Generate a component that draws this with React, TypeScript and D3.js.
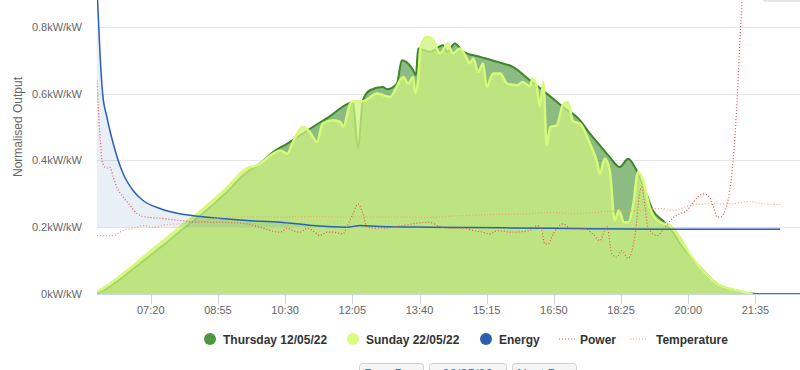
import React from "react";
import * as d3 from "d3";

// ---------- data (time "HH:MM", normalised output kW/kW) ----------
const thursday: [string, number][] = [
  ["06:04", 0.0], ["06:22", 0.022], ["06:36", 0.043], ["06:58", 0.08], ["07:19", 0.115],
  ["07:40", 0.15], ["08:01", 0.187], ["08:30", 0.235], ["09:05", 0.3], ["09:36", 0.365],
  ["09:50", 0.383], ["10:13", 0.425], ["10:33", 0.45], ["10:51", 0.475], ["11:09", 0.5],
  ["11:33", 0.532], ["11:57", 0.568], ["12:06", 0.575], ["12:13", 0.435], ["12:20", 0.58],
  ["12:30", 0.61], ["12:48", 0.62], ["12:54", 0.613], ["13:08", 0.63], ["13:15", 0.7],
  ["13:21", 0.695], ["13:31", 0.67], ["13:35", 0.655], ["13:38", 0.735], ["13:55", 0.725],
  ["14:13", 0.745], ["14:19", 0.725], ["14:30", 0.75], ["14:42", 0.725], ["15:06", 0.71],
  ["15:30", 0.695], ["15:52", 0.68], ["16:16", 0.64], ["16:40", 0.6], ["17:03", 0.56],
  ["17:27", 0.52], ["17:41", 0.48], ["17:55", 0.445], ["18:09", 0.41], ["18:23", 0.38],
  ["18:35", 0.405], ["18:47", 0.37], ["18:59", 0.31], ["19:10", 0.25], ["19:24", 0.22],
  ["19:38", 0.185], ["19:52", 0.14], ["20:17", 0.08], ["20:41", 0.03], ["21:09", 0.01],
  ["21:37", 0.0], ["22:38", 0.0],
];

const sunday: [string, number][] = [
  ["06:04", 0.007], ["06:22", 0.03], ["06:36", 0.053], ["06:58", 0.09], ["07:19", 0.127],
  ["07:40", 0.163], ["08:01", 0.2], ["08:30", 0.248], ["09:05", 0.313], ["09:36", 0.377],
  ["09:50", 0.385], ["10:13", 0.42], ["10:23", 0.43], ["10:33", 0.42], ["10:41", 0.455],
  ["10:55", 0.5], ["11:05", 0.485], ["11:15", 0.455], ["11:23", 0.51], ["11:38", 0.52],
  ["11:48", 0.515], ["11:52", 0.5], ["12:02", 0.57], ["12:06", 0.577], ["12:20", 0.577],
  ["12:40", 0.6], ["12:58", 0.59], ["13:17", 0.65], ["13:24", 0.63], ["13:31", 0.65],
  ["13:34", 0.6], ["13:38", 0.64], ["13:42", 0.745], ["13:51", 0.77], ["13:59", 0.76],
  ["14:09", 0.72], ["14:20", 0.75], ["14:27", 0.72], ["14:37", 0.735], ["14:47", 0.705],
  ["14:51", 0.69], ["14:56", 0.705], ["15:03", 0.665], ["15:10", 0.69], ["15:15", 0.62],
  ["15:24", 0.66], ["15:34", 0.66], ["15:44", 0.63], ["15:58", 0.625], ["16:06", 0.635],
  ["16:16", 0.622], ["16:20", 0.645], ["16:26", 0.62], ["16:30", 0.56], ["16:35", 0.635],
  ["16:40", 0.445], ["16:45", 0.5], ["16:54", 0.505], ["17:03", 0.568], ["17:10", 0.575],
  ["17:17", 0.517], ["17:27", 0.51], ["17:41", 0.45], ["17:51", 0.395], ["17:55", 0.36],
  ["18:02", 0.405], ["18:09", 0.37], ["18:16", 0.22], ["18:22", 0.25], ["18:29", 0.215],
  ["18:35", 0.215], ["18:42", 0.265], ["18:49", 0.365], ["18:56", 0.34], ["19:06", 0.256],
  ["19:20", 0.215], ["19:34", 0.205], ["19:48", 0.17], ["20:02", 0.12], ["20:21", 0.07],
  ["20:41", 0.03], ["20:59", 0.016], ["21:17", 0.007], ["21:31", 0.0],
];

const energy: [string, number][] = [
  ["06:04", 0.905], ["06:05", 0.87], ["06:08", 0.73], ["06:12", 0.6], ["06:18", 0.53],
  ["06:27", 0.45], ["06:41", 0.36], ["06:55", 0.31], ["07:09", 0.28], ["07:33", 0.256],
  ["08:01", 0.24], ["08:30", 0.232], ["09:36", 0.22], ["10:23", 0.215], ["11:09", 0.205],
  ["11:57", 0.2], ["12:16", 0.205], ["12:44", 0.202], ["13:55", 0.2], ["16:45", 0.197],
  ["19:20", 0.194], ["22:10", 0.194],
];

const power: [string, number][] = [
  ["06:04", 0.64], ["06:08", 0.48], ["06:12", 0.39], ["06:18", 0.377], ["06:22", 0.38],
  ["06:27", 0.35], ["06:32", 0.32], ["06:41", 0.29], ["06:51", 0.265], ["07:01", 0.24],
  ["07:15", 0.23], ["07:33", 0.227], ["08:01", 0.22], ["08:30", 0.215], ["08:58", 0.215],
  ["09:36", 0.21], ["09:54", 0.2], ["10:23", 0.185], ["10:33", 0.197], ["10:41", 0.19],
  ["10:51", 0.185], ["11:01", 0.197], ["11:15", 0.18], ["11:19", 0.175], ["11:29", 0.185],
  ["11:38", 0.185], ["11:52", 0.18], ["11:57", 0.2], ["12:06", 0.24], ["12:13", 0.27],
  ["12:20", 0.24], ["12:26", 0.2], ["12:44", 0.197], ["13:55", 0.215], ["14:05", 0.205],
  ["14:23", 0.197], ["14:42", 0.197], ["14:56", 0.19], ["15:10", 0.185], ["15:20", 0.18],
  ["15:30", 0.19], ["15:52", 0.185], ["16:16", 0.19], ["16:26", 0.205], ["16:33", 0.19],
  ["16:37", 0.15], ["16:42", 0.15], ["16:49", 0.18], ["17:03", 0.21], ["17:13", 0.197],
  ["17:31", 0.197], ["17:45", 0.18], ["17:55", 0.16], ["18:05", 0.202], ["18:12", 0.12],
  ["18:19", 0.11], ["18:26", 0.13], ["18:35", 0.107], ["18:45", 0.18], ["18:52", 0.31],
  ["18:54", 0.32], ["18:59", 0.26], ["19:03", 0.2], ["19:16", 0.175], ["19:27", 0.2],
  ["19:38", 0.227], ["19:48", 0.24], ["19:58", 0.25], ["20:07", 0.275], ["20:21", 0.3],
  ["20:28", 0.295], ["20:35", 0.265], ["20:41", 0.23], ["20:45", 0.23], ["20:55", 0.27],
  ["21:02", 0.37], ["21:06", 0.47], ["21:10", 0.62], ["21:14", 0.8], ["21:16", 0.88],
  ["21:17", 0.95],
];

const temperature: [string, number][] = [
  ["06:04", 0.175], ["06:27", 0.175], ["06:41", 0.19], ["06:55", 0.197], ["07:09", 0.205],
  ["07:23", 0.2], ["07:43", 0.208], ["08:01", 0.21], ["08:30", 0.22], ["09:16", 0.23],
  ["10:23", 0.23], ["11:09", 0.232], ["11:57", 0.23], ["12:44", 0.23], ["13:55", 0.23],
  ["14:42", 0.235], ["15:30", 0.238], ["16:16", 0.24], ["16:45", 0.245], ["17:17", 0.24],
  ["17:51", 0.245], ["18:19", 0.248], ["18:47", 0.25], ["19:20", 0.256], ["19:38", 0.25],
  ["20:02", 0.265], ["20:31", 0.27], ["20:59", 0.27], ["21:27", 0.277], ["21:46", 0.27],
  ["22:10", 0.268],
];

const xTickLabels = ["07:20", "08:55", "10:30", "12:05", "13:40", "15:15", "16:50", "18:25", "20:00", "21:35"];
const yTickValues = [0, 0.2, 0.4, 0.6, 0.8];
const yTickLabels = ["0kW/kW", "0.2kW/kW", "0.4kW/kW", "0.6kW/kW", "0.8kW/kW"];
const xDomain = ["06:04", "22:38"];
const yDomain = [0, 1.0];

const legendItems = [
  { name: "Thursday 12/05/22", kind: "circle", color: "#4f953d" },
  { name: "Sunday 22/05/22", kind: "circle", color: "#d8fb82" },
  { name: "Energy", kind: "circle", color: "#2a5db0" },
  { name: "Power", kind: "line", color: "#e8534f" },
  { name: "Temperature", kind: "line", color: "#f4a070" },
];
const buttonLabels = ["Prev Day", "22/05/22", "Next Day"];

// ---------- helpers ----------
const toMin = (s: string) => {
  const [h, m] = s.split(":").map(Number);
  return h * 60 + m;
};

const W = 800;
const H = 370;
const plotLeft = 97;
const plotRight = 800;
const plotTop = -40;
const plotBottom = 294;

const FONT = "'Liberation Sans', Arial, Helvetica, sans-serif";

export default function App() {
  const x = d3.scaleLinear().domain(xDomain.map(toMin)).range([plotLeft, plotRight]);
  const y = d3.scaleLinear().domain(yDomain).range([plotBottom, plotTop]);

  const line = d3
    .line<[string, number]>()
    .x((d) => x(toMin(d[0])))
    .y((d) => y(d[1]))
    .curve(d3.curveMonotoneX);
  const area = (base: number) =>
    d3
      .area<[string, number]>()
      .x((d) => x(toMin(d[0])))
      .y0(y(base))
      .y1((d) => y(d[1]))
      .curve(d3.curveMonotoneX);

  const legendXs = [210, 353, 486, 567, 638];
  const legendTextX = [223, 366, 499, 580, 656];

  return (
    <svg
      width={W}
      height={H}
      style={{ position: "absolute", left: 0, top: 0, background: "#fff", fontFamily: FONT }}
    >
      <defs>
        <clipPath id="plotclip">
          <rect x={plotLeft} y={plotTop} width={plotRight - plotLeft} height={plotBottom - plotTop} />
        </clipPath>
      </defs>

      {/* grid */}
      {yTickValues.slice(1).map((v) => (
        <line
          key={v}
          x1={plotLeft}
          x2={plotRight}
          y1={Math.round(y(v)) + 0.5}
          y2={Math.round(y(v)) + 0.5}
          stroke="#e6e6e6"
          strokeWidth={1}
        />
      ))}

      {/* y labels */}
      {yTickValues.map((v, i) => (
        <text key={v} x={82} y={y(v) + 4} textAnchor="end" fontSize={11} fill="#666">
          {yTickLabels[i]}
        </text>
      ))}
      <text
        transform={`translate(22,127) rotate(-90)`}
        textAnchor="middle"
        fontSize={12}
        fill="#666"
      >
        Normalised Output
      </text>

      <g clipPath="url(#plotclip)">
        {/* Thursday */}
        <path d={area(0)(thursday) || ""} fill="#3f8f2f" fillOpacity={0.6} />
        <path d={line(thursday) || ""} fill="none" stroke="#3f8529" strokeWidth={2} />
        {/* Sunday */}
        <path d={area(0)(sunday) || ""} fill="#cdf27f" fillOpacity={0.75} />
        <path d={line(sunday) || ""} fill="none" stroke="#d6f97a" strokeWidth={2.5} />
        {/* Energy */}
        <path d={area(0.2)(energy) || ""} fill="#2b5fb4" fillOpacity={0.1} />
        <path d={line(energy) || ""} fill="none" stroke="#2b5fb9" strokeWidth={1.5} />
        {/* Power */}
        <path
          d={line(power) || ""}
          fill="none"
          stroke="#e8534f"
          strokeWidth={1.2}
          strokeDasharray="1,2"
        />
        {/* Temperature */}
        <path
          d={line(temperature) || ""}
          fill="none"
          stroke="#f4a070"
          strokeWidth={1.2}
          strokeDasharray="1,2"
        />
      </g>

      {/* x axis */}
      <line x1={plotLeft} x2={plotRight} y1={plotBottom + 0.5} y2={plotBottom + 0.5} stroke="#ccd6eb" />
      {xTickLabels.map((t) => {
        const xx = Math.round(x(toMin(t))) + 0.5;
        return (
          <g key={t}>
            <line x1={xx} x2={xx} y1={plotBottom} y2={plotBottom + 10} stroke="#ccd6eb" />
            <text x={x(toMin(t))} y={314} textAnchor="middle" fontSize={11} fill="#666">
              {t}
            </text>
          </g>
        );
      })}

      {/* legend */}
      {legendItems.map((it, i) => {
        const lx = legendXs[i];
        return (
          <g key={it.name}>
            {it.kind === "circle" ? (
              <circle cx={lx} cy={339} r={6} fill={it.color} />
            ) : (
              <line
                x1={lx - 8}
                x2={lx + 8}
                y1={339}
                y2={339}
                stroke={it.color}
                strokeWidth={1.2}
                strokeDasharray="1,2"
              />
            )}
            <text x={legendTextX[i]} y={343.5} fontSize={12} fontWeight="bold" fill="#333">
              {it.name}
            </text>
          </g>
        );
      })}

      {/* bottom buttons (cut off by the frame, as in the reference) */}
      {buttonLabels.map((b, i) => {
        const bx = [359, 429, 512][i];
        const bw = [64, 77, 64][i];
        return (
          <g key={b}>
            <rect x={bx + 0.5} y={363.5} width={bw} height={20} rx={3} fill="#f5f5f5" stroke="#d0d0d0" />
            <text x={bx + bw / 2} y={378} textAnchor="middle" fontSize={13} fill="#337ab7">
              {b}
            </text>
          </g>
        );
      })}

      {/* top right export button edge */}
      <rect x={763} y={-10} width={40} height={11} rx={2} fill="#f2f2f2" stroke="#d8d8d8" />
    </svg>
  );
}
